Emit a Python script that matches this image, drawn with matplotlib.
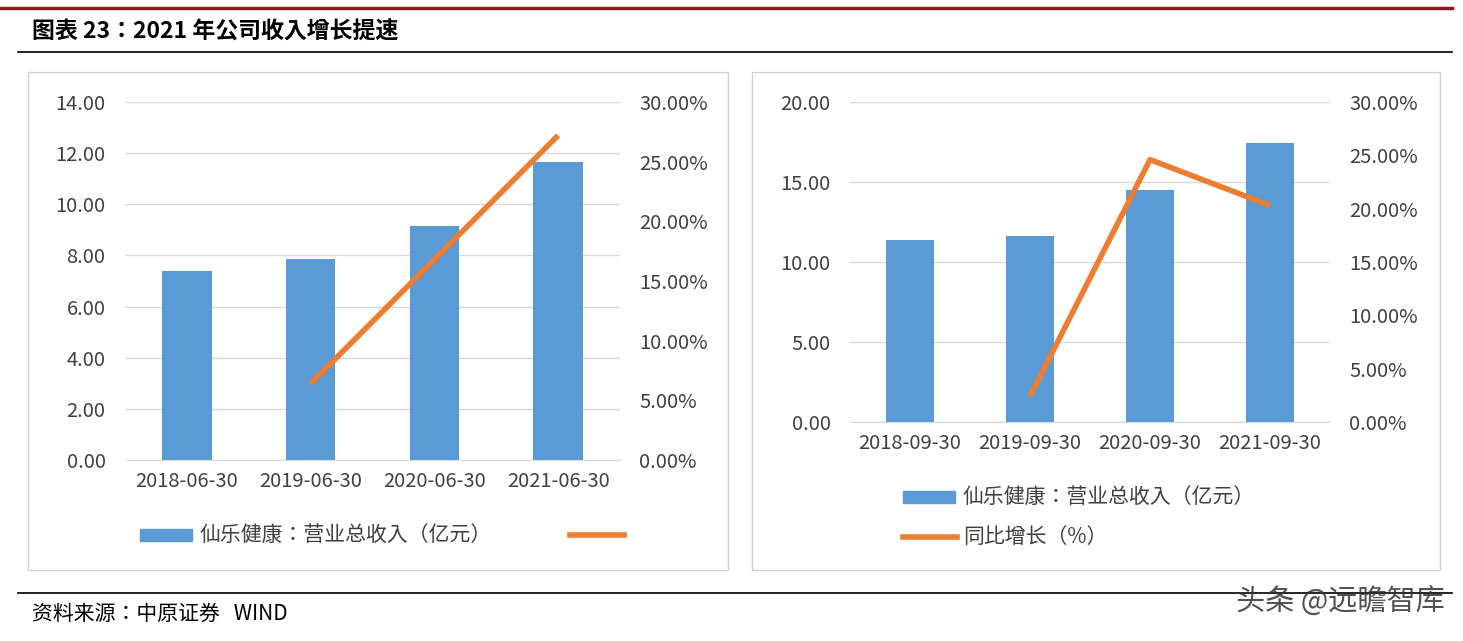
import matplotlib
matplotlib.use("Agg")
import matplotlib.pyplot as plt
from matplotlib import font_manager
from matplotlib.patches import Rectangle
from matplotlib.ticker import FuncFormatter, MultipleLocator

names = {f.name for f in font_manager.fontManager.ttflist}
cjk = [n for n in ["Noto Sans CJK SC", "Noto Sans CJK JP", "Noto Sans CJK TC", "Noto Sans CJK KR"] if n in names]
plt.rcParams["font.family"] = "sans-serif"
plt.rcParams["font.sans-serif"] = cjk + ["DejaVu Sans"]

# data
h1_dates = ["2018-06-30", "2019-06-30", "2020-06-30", "2021-06-30"]
h1_revenue = [7.40, 7.85, 9.15, 11.65]
h1_growth = [None, 6.4, None, 27.2]
q3_dates = ["2018-09-30", "2019-09-30", "2020-09-30", "2021-09-30"]
q3_revenue = [11.35, 11.65, 14.50, 17.45]
q3_growth = [None, 2.4, 24.6, 20.3]

BAR = "#5b9bd5"
LINE = "#ed7d31"
TXT = "#404040"
W, H = 1463, 641

fig = plt.figure(figsize=(W / 100, H / 100), dpi=100)


def fx(x):
    return x / W


def fy(y):
    return 1 - y / H


# header / footer decorations
fig.add_artist(plt.Line2D([fx(0), fx(1452)], [fy(8), fy(8)], color="#8b1a1a", lw=2.5))
fig.add_artist(plt.Line2D([fx(18), fx(1452)], [fy(52), fy(52)], color="black", lw=1.2))
fig.add_artist(plt.Line2D([fx(18), fx(1452)], [fy(593), fy(593)], color="black", lw=1.2))
fig.text(fx(32), fy(32), "图表 23：2021 年公司收入增长提速", fontsize=16.5, fontweight="bold", va="center")
fig.text(fx(32), fy(614), "资料来源：中原证券   WIND", fontsize=15, va="center")
fig.text(fx(1445), fy(603), "头条 @远瞻智库", fontsize=21, va="center", ha="right", color="#333333", alpha=0.85)
for x0, x1 in [(28, 728), (752, 1440)]:
    fig.add_artist(Rectangle((fx(x0), fy(570)), fx(x1 - x0), (570 - 72) / H,
                             transform=fig.transFigure, fill=False, ec="#d0d0d0", lw=1))


def panel(rect, dates, rev, growth, ymax, ystep, xfont):
    ax = fig.add_axes(rect)
    x = range(len(dates))
    ax.bar(x, rev, width=0.4, color=BAR, zorder=2)
    ax.set_ylim(0, ymax)
    ax.yaxis.set_major_locator(MultipleLocator(ystep))
    ax.yaxis.set_major_formatter(FuncFormatter(lambda v, p: f"{v:.2f}"))
    ax.grid(axis="y", color="#d9d9d9", lw=1, zorder=0)
    ax.set_xlim(-0.5, len(dates) - 0.5)
    ax.set_xticks(list(x))
    ax.set_xticklabels(dates, fontsize=xfont, color=TXT)
    ax.tick_params(axis="y", labelsize=14.5, colors=TXT, length=0, pad=14)
    ax.tick_params(axis="x", length=0, pad=8)
    for s in ["top", "right", "left"]:
        ax.spines[s].set_visible(False)
    ax.spines["bottom"].set_color("#d9d9d9")
    ax2 = ax.twinx()
    pts = [(i, g) for i, g in zip(x, growth) if g is not None]
    ax2.plot([p[0] for p in pts], [p[1] for p in pts], color=LINE, lw=4, solid_capstyle="butt")
    ax2.set_ylim(0, 30)
    ax2.yaxis.set_major_locator(MultipleLocator(5))
    ax2.yaxis.set_major_formatter(FuncFormatter(lambda v, p: f"{v:.2f}%"))
    ax2.tick_params(axis="y", labelsize=14.5, colors=TXT, length=0, pad=14)
    for s in ax2.spines.values():
        s.set_visible(False)
    return ax, ax2


panel([fx(125), fy(460), fx(495), (460 - 102) / H], h1_dates, h1_revenue, h1_growth, 14, 2, 14.5)
panel([fx(850), fy(422), fx(480), (422 - 102) / H], q3_dates, q3_revenue, q3_growth, 20, 5, 14.5)

# legends
fig.add_artist(Rectangle((fx(140), fy(541)), fx(52), 12 / H, transform=fig.transFigure, color=BAR))
fig.text(fx(200), fy(535), "仙乐健康：营业总收入（亿元）", fontsize=15, color=TXT, va="center")
fig.add_artist(plt.Line2D([fx(570), fx(624)], [fy(535), fy(535)], color=LINE, lw=4))

fig.add_artist(Rectangle((fx(903), fy(503)), fx(52), 12 / H, transform=fig.transFigure, color=BAR))
fig.text(fx(963), fy(497), "仙乐健康：营业总收入（亿元）", fontsize=15, color=TXT, va="center")
fig.add_artist(plt.Line2D([fx(903), fx(957)], [fy(537), fy(537)], color=LINE, lw=4))
fig.text(fx(963), fy(537), "同比增长（%）", fontsize=15, color=TXT, va="center")

fig.savefig("out.png", dpi=100)
